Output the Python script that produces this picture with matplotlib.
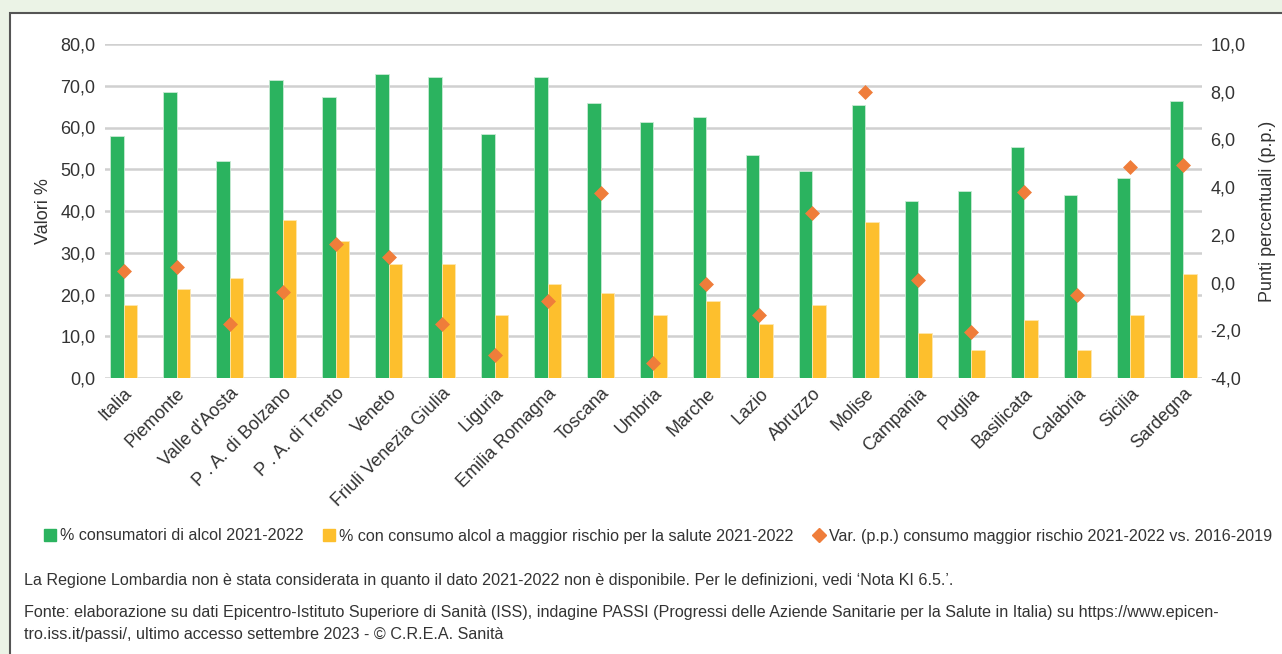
import matplotlib
matplotlib.use("Agg")
import matplotlib.pyplot as plt
from matplotlib.patches import Rectangle
from matplotlib.lines import Line2D
from matplotlib.ticker import FuncFormatter
import numpy as np

plt.rcParams["font.family"] = ["Liberation Sans Narrow", "Liberation Sans", "DejaVu Sans"]

regions = [
    "Italia", "Piemonte", "Valle d'Aosta", "P . A. di Bolzano", "P . A. di Trento",
    "Veneto", "Friuli Venezia Giulia", "Liguria", "Emilia Romagna", "Toscana",
    "Umbria", "Marche", "Lazio", "Abruzzo", "Molise", "Campania", "Puglia",
    "Basilicata", "Calabria", "Sicilia", "Sardegna",
]
consumatori = [57.9, 68.5, 51.9, 71.3, 67.2, 72.7, 72.2, 58.5, 72.2, 65.8, 61.2,
               62.6, 53.3, 49.7, 65.3, 42.4, 44.7, 55.3, 43.8, 47.9, 66.3]
rischio = [17.5, 21.2, 24.0, 37.8, 32.7, 27.2, 27.2, 15.2, 22.6, 20.3, 15.2,
           18.4, 12.9, 17.6, 37.4, 10.8, 6.6, 13.9, 6.6, 15.2, 24.8]
variazione = [0.5, 0.67, -1.75, -0.38, 1.63, 1.07, -1.73, -3.05, -0.78, 3.74, -3.36,
              -0.06, -1.34, 2.93, 8.0, 0.11, -2.06, 3.81, -0.53, 4.86, 4.94]

green = "#2bb35f"
yellow = "#fdbf2d"
orange = "#ef7d3a"
bg = "#ebf3e6"
txt = "#333333"

W, H = 1282, 654
fig = plt.figure(figsize=(W / 100, H / 100), dpi=100, facecolor=bg)

# white panel with dark border (behind the axes)
fig.patches.append(Rectangle((10 / W, -0.01), 1.1, 1 - 13 / H + 0.01,
                             transform=fig.transFigure, facecolor="white",
                             edgecolor="#555555", linewidth=1.5, zorder=-5))

ax = fig.add_axes([105 / W, 1 - 378 / H, (1202 - 105) / W, (378 - 44) / H])
ax.set_facecolor("none")
ax2 = ax.twinx()

x = np.arange(len(regions))
w = 0.25
ax.bar(x - w / 2, consumatori, w, color=green, edgecolor="#c9ead5", linewidth=0.6, zorder=3)
ax.bar(x + w / 2, rischio, w, color=yellow, edgecolor="#fde7b0", linewidth=0.6, zorder=3)
ax2.scatter(x, variazione, marker="D", s=58, color=orange, zorder=4, linewidths=0)

ax.set_ylim(0, 80)
ax.set_yticks(np.arange(0, 81, 10))
ax2.set_ylim(-4, 10)
ax2.set_yticks(np.arange(-4, 11, 2))
ax.set_xlim(-0.35, len(regions) - 0.65)

fmt = FuncFormatter(lambda v, p: f"{v:.1f}".replace(".", ","))
ax.yaxis.set_major_formatter(fmt)
ax2.yaxis.set_major_formatter(fmt)

ax.grid(axis="y", color="#d0d0d0", linewidth=1.8, zorder=0)
ax.set_axisbelow(True)
for a in (ax, ax2):
    for s in a.spines.values():
        s.set_visible(False)
    a.tick_params(length=0, labelsize=13, colors=txt)
ax.tick_params(axis="y", pad=7)
ax2.tick_params(axis="y", pad=6)

ax.set_xticks(x)
ax.set_xticklabels(regions, rotation=45, ha="right", rotation_mode="anchor", fontsize=13)
ax.tick_params(axis="x", pad=5)

ax.set_ylabel("Valori %", fontsize=13, color=txt, labelpad=6)
ax2.set_ylabel("Punti percentuali (p.p.)", fontsize=13, color=txt, labelpad=10)

handles = [
    Line2D([], [], marker="s", linestyle="none", color=green, markersize=9),
    Line2D([], [], marker="s", linestyle="none", color=yellow, markersize=9),
    Line2D([], [], marker="D", linestyle="none", color=orange, markersize=7),
]
labels = [
    "% consumatori di alcol 2021-2022",
    "% con consumo alcol a maggior rischio per la salute 2021-2022",
    "Var. (p.p.) consumo maggior rischio 2021-2022 vs. 2016-2019",
]
fig.legend(handles, labels, loc="center left", bbox_to_anchor=(26 / W, 1 - 536 / H),
           ncol=3, frameon=False, fontsize=11.6, handletextpad=0.0,
           columnspacing=1.0, handlelength=1.2, labelcolor=txt)

notes = [
    (580, "La Regione Lombardia non è stata considerata in quanto il dato 2021-2022 non è disponibile. Per le definizioni, vedi ‘Nota KI 6.5.’."),
    (612, "Fonte: elaborazione su dati Epicentro-Istituto Superiore di Sanità (ISS), indagine PASSI (Progressi delle Aziende Sanitarie per la Salute in Italia) su https://www.epicen-"),
    (634, "tro.iss.it/passi/, ultimo accesso settembre 2023 - © C.R.E.A. Sanità"),
]
for yy, t in notes:
    fig.text(24 / W, 1 - yy / H, t, fontsize=11.6, color=txt, va="center")

fig.savefig("out.png", dpi=100, facecolor=bg)
